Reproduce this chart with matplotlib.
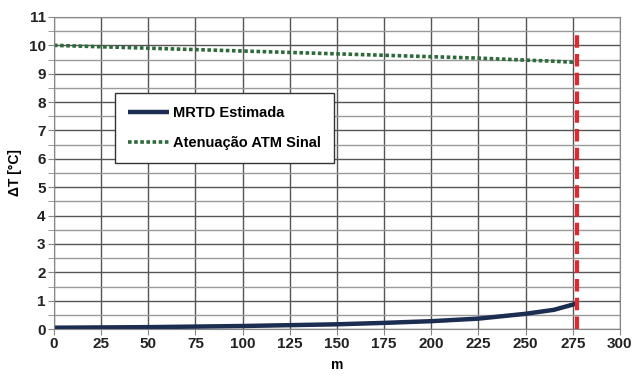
import numpy as np
import matplotlib.pyplot as plt
from matplotlib.ticker import MultipleLocator

plt.rcParams['font.family'] = ['Liberation Sans', 'DejaVu Sans']

# distance [m]
dist = [0, 25, 50, 75, 100, 125, 150, 175, 200, 225, 250, 265, 277]
mrtd = [0.05, 0.06, 0.07, 0.09, 0.11, 0.14, 0.17, 0.22, 0.28, 0.37, 0.54, 0.68, 0.90]
atm = [10.0, 9.95, 9.9, 9.85, 9.8, 9.75, 9.7, 9.65, 9.6, 9.55, 9.48, 9.44, 9.4]
limit_x = 277
limit_top = 10.5

xticks = [0, 25, 50, 75, 100, 125, 150, 175, 200, 225, 250, 275, 300]
yticks = list(range(0, 12))


def main():
    fig = plt.figure(figsize=(6.33, 3.77), dpi=100)
    ax = fig.add_axes([0.0853, 0.127, 0.894, 0.828])

    ax.plot(dist, mrtd, color='#1c2d52', lw=3.2, label='MRTD Estimada',
            solid_capstyle='butt')
    ax.plot(dist, atm, color='#2f6a3c', lw=2.6, ls=(0, (1, 0.7)),
            label='Atenuação ATM Sinal')
    ax.plot([limit_x, limit_x], [0, limit_top], color='#e0282e', lw=3,
            ls=(0, (3, 1.5)))

    ax.set_xlim(0, 300)
    ax.set_ylim(0, 11)
    ax.set_xticks(xticks)
    ax.set_yticks(yticks)
    ax.yaxis.set_minor_locator(MultipleLocator(0.5))
    ax.grid(which='major', color='#555555', lw=1)
    ax.grid(which='minor', axis='y', color='#999999', lw=1)
    ax.set_axisbelow(True)
    for s in ax.spines.values():
        s.set_color('#888888')
    ax.tick_params(which='both', length=4, color='#888888',
                   labelsize=11, pad=2)
    for lbl in ax.get_xticklabels() + ax.get_yticklabels():
        lbl.set_fontweight('bold')
        lbl.set_color('#222222')

    ax.set_xlabel('m', fontsize=10, fontweight='bold', labelpad=5)
    ax.set_ylabel('ΔT [°C]', fontsize=10, fontweight='bold', labelpad=5)

    leg = ax.legend(loc='upper left', bbox_to_anchor=(0.108, 0.756),
                    borderaxespad=0, fancybox=False, edgecolor='#333333',
                    framealpha=1, prop={'weight': 'bold', 'size': 10.5},
                    handlelength=2.8, borderpad=0.9, labelspacing=1.1,
                    handletextpad=0.3)
    leg.get_frame().set_linewidth(1)

    fig.savefig('out.png', dpi=100)


if __name__ == '__main__':
    main()
